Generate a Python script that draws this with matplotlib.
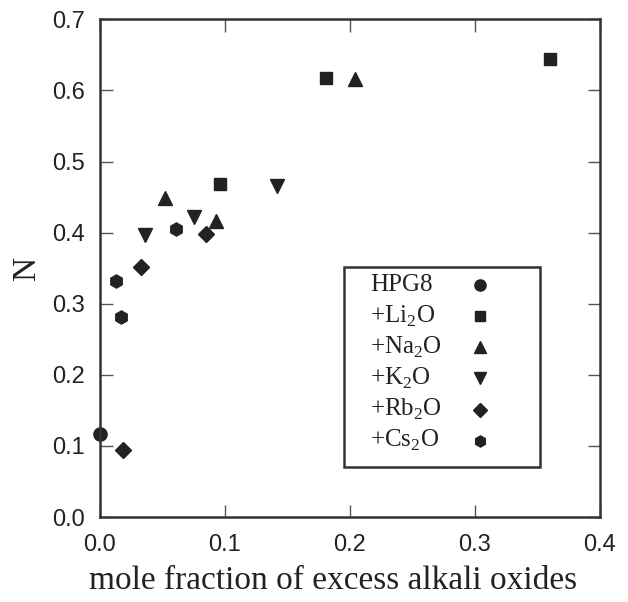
import matplotlib.pyplot as plt
from matplotlib.patches import Rectangle

# data
hpg8_x = [0.0]
hpg8_y = [0.117]
li_x = [0.096, 0.181, 0.360]
li_y = [0.469, 0.617, 0.644]
na_x = [0.052, 0.093, 0.2045]
na_y = [0.448, 0.417, 0.616]
k_x = [0.0365, 0.0755, 0.142]
k_y = [0.397, 0.422, 0.465]
rb_x = [0.0187, 0.033, 0.085]
rb_y = [0.094, 0.352, 0.398]
cs_x = [0.0128, 0.0173, 0.061]
cs_y = [0.332, 0.282, 0.405]

labels = ["HPG8", "+Li$_2$O", "+Na$_2$O", "+K$_2$O", "+Rb$_2$O", "+Cs$_2$O"]
markers = ["o", "s", "^", "v", "D", "h"]
sizes = [9.5, 8, 9.5, 9.5, 8.5, 9.5]
series = [(hpg8_x, hpg8_y), (li_x, li_y), (na_x, na_y),
          (k_x, k_y), (rb_x, rb_y), (cs_x, cs_y)]

col = "#222222"
plt.rcParams['mathtext.fontset'] = 'custom'
plt.rcParams['mathtext.rm'] = 'Liberation Serif'

fig = plt.figure(figsize=(6.28, 6.02), dpi=100)
ax = fig.add_axes([0.159, 0.141, 0.796, 0.827])

for (xs, ys), m, s in zip(series, markers, sizes):
    ax.plot(xs, ys, linestyle="none", marker=m, markersize=s, color=col,
            clip_on=False)

ax.set_xlim(0, 0.4)
ax.set_ylim(0, 0.7)
ax.set_xticks([0.0, 0.1, 0.2, 0.3, 0.4])
ax.set_yticks([0.0, 0.1, 0.2, 0.3, 0.4, 0.5, 0.6, 0.7])
ax.set_xticklabels(["0.0", "0.1", "0.2", "0.3", "0.4"])
ax.set_yticklabels(["%.1f" % v for v in ax.get_yticks()])
ax.tick_params(direction="in", length=9, width=1, color="#555555",
               top=True, right=True, labelsize=17)
ax.tick_params(axis="x", pad=12)
ax.tick_params(axis="y", pad=11)
for lab in ax.get_xticklabels() + ax.get_yticklabels():
    lab.set_family("Liberation Sans")
    lab.set_color("#222222")
for sp in ax.spines.values():
    sp.set_linewidth(1.8)
    sp.set_color("#333333")

ax.set_xlabel("mole fraction of excess alkali oxides", family="Liberation Serif",
              fontsize=24, color="#222222")
ax.xaxis.set_label_coords(0.466, -0.097)
ax.set_ylabel("N", family="Liberation Serif", fontsize=24, color="#222222",
              labelpad=7)

# legend box: text left, marker right
ax.add_patch(Rectangle((0.488, 0.1), 0.392, 0.402, transform=ax.transAxes,
                       fill=False, edgecolor="#333333", linewidth=1.8))
row_top = 0.466
row_step = 0.0625
for i, (lab, m, s) in enumerate(zip(labels, markers, sizes)):
    ry = row_top - i * row_step
    ax.text(0.54, ry, lab, transform=ax.transAxes, family="Liberation Serif",
            fontsize=18, va="center", ha="left", color="#222222")
    ax.plot([0.76], [ry], transform=ax.transAxes, marker=m,
            markersize=s * 0.85, color=col, linestyle="none")

fig.savefig("out.png", dpi=100)
